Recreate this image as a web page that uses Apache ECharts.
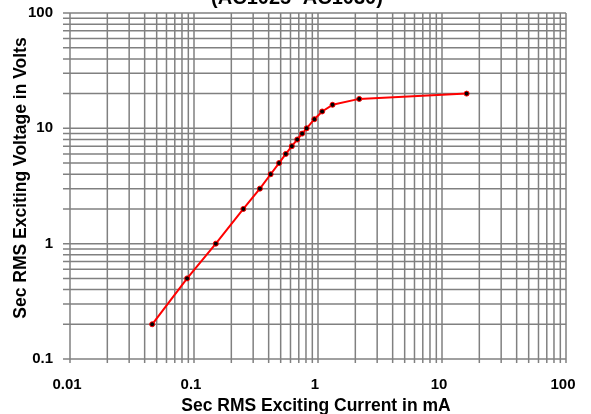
<!DOCTYPE html>
<html>
<head>
<meta charset="utf-8">
<script src="https://cdn.jsdelivr.net/npm/echarts@6/dist/echarts.min.js"></script>
<style>
html,body{margin:0;padding:0;background:#fff;}
#chart{width:591px;height:414px;}
</style>
</head>
<body>
<div id="chart"></div>
<script>
// ---- data ----
const titleText = '(AC1025~AC1030)';
const xAxisTitle = 'Sec RMS Exciting Current in mA';
const yAxisTitle = 'Sec RMS Exciting Voltage in Volts';
const current = [0.046, 0.088, 0.15, 0.25, 0.34, 0.415, 0.485, 0.55, 0.615, 0.68, 0.745, 0.81, 0.935, 1.08, 1.31, 2.15, 15.8];
const voltage = [0.2, 0.5, 1, 2, 3, 4, 5, 6, 7, 8, 9, 10, 12, 14, 16, 18, 20];
const xTickLabels = ['0.01', '0.1', '1', '10', '100'];
const yTickLabels = ['0.1', '1', '10', '100'];
const gridMultipliers = [1, 2, 3, 4, 5, 6, 7, 8, 9];

// ---- derived ----
const xMin = +xTickLabels[0], xMax = +xTickLabels[xTickLabels.length - 1];
const yMin = +yTickLabels[0], yMax = +yTickLabels[yTickLabels.length - 1];
function gridValues(labels) {
  const out = [];
  for (let i = 0; i < labels.length - 1; i++) {
    const d = +labels[i];
    gridMultipliers.forEach(m => out.push(+(d * m).toPrecision(6)));
  }
  out.push(+labels[labels.length - 1]);
  return out;
}
const xGrid = gridValues(xTickLabels).map(v => [v, yMin]);
const yGrid = gridValues(yTickLabels).map(v => [xMin, v]);
const lineData = current.map((c, i) => [c, voltage[i]]);

const GRID_COLOR = '#808080';
const GRID_W = 1.5;
const fmt = v => String(+(+v).toPrecision(6));

const chart = echarts.init(document.getElementById('chart'), null, {renderer: 'canvas'});
chart.setOption({
  animation: false,
  backgroundColor: '#fff',
  title: {
    text: titleText,
    left: 292,
    textAlign: 'center',
    top: -17,
    textStyle: {fontFamily: 'Liberation Sans', fontWeight: 'bold', fontSize: 20, color: '#000'}
  },
  graphic: [{
    type: 'text', silent: true,
    x: 21, y: 178, rotation: Math.PI / 2,
    style: {text: yAxisTitle, fill: '#000', font: 'bold 17.5px "Liberation Sans"', textAlign: 'center', textVerticalAlign: 'middle'}
  }],
  grid: {left: 70, right: 25, top: 13, bottom: 55, containLabel: false, outerBoundsMode: 'none'},
  xAxis: {
    type: 'log', logBase: 10, min: xMin, max: xMax,
    name: xAxisTitle, nameLocation: 'middle', nameGap: 37,
    nameTextStyle: {fontFamily: 'Liberation Sans', fontWeight: 'bold', fontSize: 17.5, color: '#000', padding: [0, 4, 0, 0]},
    axisLine: {show: false},
    axisTick: {show: false},
    splitLine: {show: false},
    axisLabel: {formatter: fmt, margin: 18, padding: [0, 6, 0, 0], fontFamily: 'Liberation Sans', fontWeight: 'bold', fontSize: 15, color: '#000'}
  },
  yAxis: {
    type: 'log', logBase: 10, min: yMin, max: yMax,
    axisLine: {show: false},
    axisTick: {show: false},
    splitLine: {show: false},
    axisLabel: {formatter: fmt, margin: 17, fontFamily: 'Liberation Sans', fontWeight: 'bold', fontSize: 15, color: '#000'}
  },
  series: [
    {
      type: 'custom', name: 'vgrid', silent: true, z: 1,
      encode: {x: 0, y: 1},
      data: xGrid,
      renderItem: function (params, api) {
        const v = api.value(0);
        const p1 = api.coord([v, yMin]);
        const p2 = api.coord([v, yMax]);
        return {type: 'line', shape: {x1: p1[0], y1: p1[1] + 4, x2: p2[0], y2: p2[1]},
          style: {stroke: GRID_COLOR, lineWidth: GRID_W}};
      }
    },
    {
      type: 'custom', name: 'hgrid', silent: true, z: 1,
      encode: {x: 0, y: 1},
      data: yGrid,
      renderItem: function (params, api) {
        const v = api.value(1);
        const p1 = api.coord([xMin, v]);
        const p2 = api.coord([xMax, v]);
        return {type: 'line', shape: {x1: p1[0] - 7, y1: p1[1], x2: p2[0], y2: p2[1]},
          style: {stroke: GRID_COLOR, lineWidth: GRID_W}};
      }
    },
    {
      type: 'line', name: 'curve', z: 3,
      data: lineData,
      lineStyle: {color: '#ff0000', width: 2},
      symbol: 'circle', symbolSize: 5,
      itemStyle: {color: '#000', borderColor: '#ff0000', borderWidth: 1},
      showSymbol: true
    }
  ]
});
</script>
</body>
</html>
